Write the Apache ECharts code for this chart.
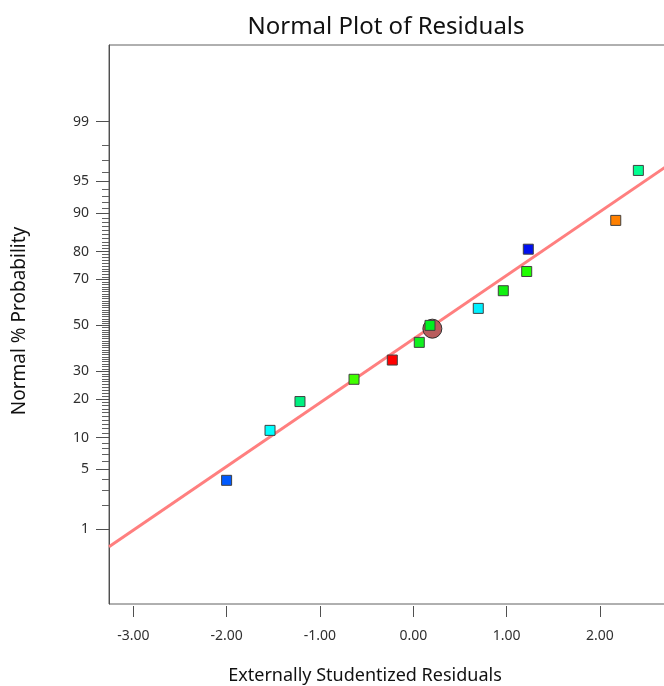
<!DOCTYPE html>
<html>
<head>
<meta charset="utf-8">
<title>Normal Plot of Residuals</title>
<script src="https://cdn.jsdelivr.net/npm/echarts@6/dist/echarts.min.js"></script>
<style>
  html, body { margin: 0; padding: 0; background: #ffffff; }
  #chart { width: 664px; height: 686px; }
</style>
</head>
<body>
<div id="chart"></div>
<script>
// Externally studentized residuals, sorted, with their normal % probability
const residuals = [-2.00, -1.535, -1.214, -0.635, -0.225, 0.064, 0.179, 0.696, 0.964, 1.215, 1.232, 2.169, 2.411];
const normalPct = [3.85, 11.54, 19.23, 26.92, 34.62, 42.31, 50.00, 57.69, 65.38, 73.08, 80.77, 88.46, 96.15];
const pointColors = ['#005aff', '#00ffff', '#00f080', '#40ff00', '#ff0000', '#10f020', '#00f020',
                     '#00f0ff', '#10f010', '#20ff00', '#0010f0', '#ff8000', '#00ff90'];

// Highlighted run (drawn as a circle)
const highlightX = [0.204];
const highlightPct = [48.5];

// Reference line end points (residual, %)
const fitX = [-3.26, 2.9];
const fitPct = [0.574, 97.45];

// Axis ticks
const xTicks = [-3, -2, -1, 0, 1, 2];
const yMajorPct = [1, 5, 10, 20, 30, 50, 70, 80, 90, 95, 99];
const yMinorPct = [2, 3, 4, 6, 7, 8, 9, 11, 12, 13, 14, 15, 16, 17, 18, 19, 21, 22, 23, 24, 25, 26, 27, 28, 29,
  31, 32, 33, 34, 35, 36, 37, 38, 39, 40, 41, 42, 43, 44, 45, 46, 47, 48, 49, 51, 52, 53, 54, 55, 56, 57, 58, 59,
  60, 61, 62, 63, 64, 65, 66, 67, 68, 69, 71, 72, 73, 74, 75, 76, 77, 78, 79, 81, 82, 83, 84, 85, 86, 87, 88, 89,
  91, 92, 93, 94, 96, 97, 98];

// Probit transform: percent -> standard normal quantile (Acklam's approximation)
function probit(pct) {
  const p = pct / 100;
  const a = [-39.69683028665376, 220.9460984245205, -275.9285104469687, 138.3577518672690, -30.66479806614716, 2.506628277459239];
  const b = [-54.47609879822406, 161.5858368580409, -155.6989798598866, 66.80131188771972, -13.28068155288572];
  const c = [-0.007784894002430293, -0.3223964580411365, -2.400758277161838, -2.549732539343734, 4.374664141464968, 2.938163982698783];
  const d = [0.007784695709041462, 0.3224671290700398, 2.445134137142996, 3.754408661907416];
  const pLow = 0.02425, pHigh = 1 - pLow;
  let q, r;
  if (p < pLow) {
    q = Math.sqrt(-2 * Math.log(p));
    return (((((c[0] * q + c[1]) * q + c[2]) * q + c[3]) * q + c[4]) * q + c[5]) /
           ((((d[0] * q + d[1]) * q + d[2]) * q + d[3]) * q + 1);
  } else if (p <= pHigh) {
    q = p - 0.5; r = q * q;
    return (((((a[0] * r + a[1]) * r + a[2]) * r + a[3]) * r + a[4]) * r + a[5]) * q /
           (((((b[0] * r + b[1]) * r + b[2]) * r + b[3]) * r + b[4]) * r + 1);
  } else {
    q = Math.sqrt(-2 * Math.log(1 - p));
    return -(((((c[0] * q + c[1]) * q + c[2]) * q + c[3]) * q + c[4]) * q + c[5]) /
            ((((d[0] * q + d[1]) * q + d[2]) * q + d[3]) * q + 1);
  }
}

const majorZ = yMajorPct.map(probit);
const minorZ = yMinorPct.map(probit);

function pctLabel(z) {
  let best = 0;
  for (let i = 1; i < majorZ.length; i++) {
    if (Math.abs(majorZ[i] - z) < Math.abs(majorZ[best] - z)) best = i;
  }
  return String(yMajorPct[best]);
}

const FONT = 'Noto Sans';
const Y_MIN = -3.18, Y_MAX = 3.20;

const chart = echarts.init(document.getElementById('chart'), null, { renderer: 'canvas' });

chart.setOption({
  backgroundColor: '#ffffff',
  animation: false,
  grid: {
    // the plot frame runs on past the right edge of the page
    left: 109, top: 45, bottom: 82, width: 575,
    containLabel: false,
    outerBoundsMode: 'none',
    show: true, borderColor: '#606060', borderWidth: 1, backgroundColor: '#ffffff'
  },
  xAxis: {
    type: 'value',
    min: fitX[0], max: fitX[1],
    offset: 2,
    splitLine: { show: false },
    axisLine: { show: false, onZero: false },
    axisTick: { show: true, customValues: xTicks, length: 11, lineStyle: { color: '#505050', width: 1 } },
    axisLabel: {
      customValues: xTicks, margin: 23,
      formatter: v => v.toFixed(2),
      fontFamily: FONT, fontSize: 14, color: '#303030'
    }
  },
  yAxis: [{
    type: 'value',
    min: Y_MIN, max: Y_MAX,
    position: 'left',
    splitLine: { show: false },
    axisLine: { show: true, onZero: false, lineStyle: { color: '#505050', width: 1 } },
    axisTick: { show: true, customValues: majorZ, length: 13, lineStyle: { color: '#505050', width: 1 } },
    axisLabel: {
      customValues: majorZ, margin: 20,
      formatter: v => pctLabel(v),
      fontFamily: FONT, fontSize: 14, color: '#303030'
    }
  }, {
    type: 'value',
    min: Y_MIN, max: Y_MAX,
    position: 'left',
    offset: 0,
    splitLine: { show: false },
    axisLine: { show: false, onZero: false },
    axisTick: { show: true, customValues: minorZ, length: 7, lineStyle: { color: '#606060', width: 1 } },
    axisLabel: { show: false }
  }],
  graphic: [
    {
      type: 'text', x: 386, y: 27,
      style: { text: 'Normal Plot of Residuals', fontFamily: FONT, fontSize: 24, fill: '#111111',
               textAlign: 'center', textVerticalAlign: 'middle' }
    },
    {
      type: 'text', x: 365, y: 676,
      style: { text: 'Externally Studentized Residuals', fontFamily: FONT, fontSize: 18, fill: '#111111',
               textAlign: 'center', textVerticalAlign: 'middle' }
    },
    {
      type: 'text', x: 20, y: 321, rotation: Math.PI / 2,
      style: { text: 'Normal % Probability', fontFamily: FONT, fontSize: 19, fill: '#111111',
               textAlign: 'center', textVerticalAlign: 'middle' }
    }
  ],
  series: [
    {
      name: 'fit',
      type: 'line',
      yAxisIndex: 0,
      data: fitX.map((x, i) => [x, probit(fitPct[i])]),
      showSymbol: false,
      lineStyle: { color: '#ff7f7f', width: 3 },
      z: 2
    },
    {
      name: 'highlight',
      type: 'scatter',
      yAxisIndex: 0,
      data: highlightX.map((x, i) => [x, probit(highlightPct[i])]),
      symbol: 'circle',
      symbolSize: 19,
      itemStyle: { color: '#b85c5c', borderColor: '#303030', borderWidth: 1, opacity: 1 },
      z: 3
    },
    {
      name: 'residuals',
      type: 'scatter',
      yAxisIndex: 0,
      data: residuals.map((x, i) => ({
        value: [x, probit(normalPct[i])],
        itemStyle: { color: pointColors[i] }
      })),
      symbol: 'rect',
      symbolSize: 10,
      itemStyle: { borderColor: '#404040', borderWidth: 1, opacity: 1 },
      z: 4
    }
  ]
});
</script>
</body>
</html>
